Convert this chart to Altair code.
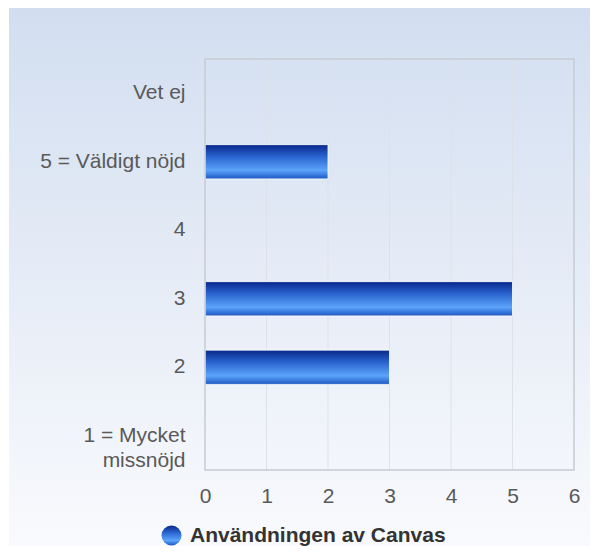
import altair as alt
import pandas as pd

# ---- data ----
categories = ["Vet ej", "5 = Väldigt nöjd", "4", "3", "2", "1 = Mycket missnöjd"]
counts = [0, 2, 0, 5, 3, 0]
series_name = "Användningen av Canvas"
x_ticks = [0, 1, 2, 3, 4, 5, 6]
grid_ticks = [1, 2, 3, 4, 5]
wrapped = {"1 = Mycket missnöjd": ["1 = Mycket", "missnöjd"]}

# ---- layout ----
W, H = 369, 411
PAD = {"left": 197, "top": 51, "right": 16, "bottom": 76}
FONT = "Liberation Sans"

df = pd.DataFrame({"cat": categories, "n": counts, "series": series_name})
grid_df = pd.DataFrame({"t": grid_ticks})

bar_grad = {
    "gradient": "linear", "x1": 0, "y1": 0, "x2": 0, "y2": 1,
    "stops": [
        {"offset": 0.0, "color": "#08278a"},
        {"offset": 0.35, "color": "#2a63cf"},
        {"offset": 0.75, "color": "#5ba4fb"},
        {"offset": 1.0, "color": "#1c56c2"},
    ],
}
bg_grad = {
    "gradient": "linear", "x1": 0, "y1": 0, "x2": 0, "y2": 1,
    "stops": [
        {"offset": 0.0, "color": "#d2def0"},
        {"offset": 1.0, "color": "#f9fafd"},
    ],
}
legend_grad_expr = (
    "{gradient: 'linear', x1: 0, y1: 0, x2: 1, y2: 0, stops: ["
    "{offset: 0, color: '#5ea2f5'}, {offset: 0.5, color: '#2a62d2'}, "
    "{offset: 1, color: '#0b2885'}]}"
)

label_expr = " : ".join(
    [f"datum.label == '{k}' ? {v!r}" for k, v in wrapped.items()] + ["datum.label"]
)

bg = alt.Chart(alt.Data(values=[{}])).mark_rect(fill=bg_grad).encode(
    x=alt.value(-PAD["left"] + 1),
    x2=alt.value(W + PAD["right"]),
    y=alt.value(-PAD["top"]),
    y2=alt.value(H + PAD["bottom"]),
)

grid = alt.Chart(grid_df).mark_rule(color="#dde2e9", strokeWidth=1).encode(
    x=alt.X("t:Q"),
    y=alt.value(0),
    y2=alt.value(H),
)

bars = alt.Chart(df).transform_filter("datum.n > 0").mark_bar(
    fill=bar_grad, stroke="#ffffff", strokeWidth=1, strokeOpacity=0.8
).encode(
    y=alt.Y(
        "cat:N",
        sort=categories,
        scale=alt.Scale(domain=categories, paddingInner=0.5, paddingOuter=0.25),
        axis=alt.Axis(
            title=None, domain=False, ticks=False, grid=False,
            labelFont=FONT, labelFontSize=21, labelColor="#595959",
            labelPadding=20, labelLineHeight=25, labelLimit=300,
            labelExpr=label_expr, zindex=1,
        ),
    ),
    x=alt.X(
        "n:Q",
        scale=alt.Scale(domain=[0, 6], nice=False),
        axis=alt.Axis(
            title=None, values=x_ticks, format="d", domain=False, ticks=False,
            grid=False, labelFont=FONT, labelFontSize=21, labelColor="#595959",
            labelPadding=15, labelFlush=False, zindex=1,
        ),
    ),
    opacity=alt.Opacity(
        "series:N",
        scale=alt.Scale(range=[1]),
        legend=alt.Legend(
            title=None, orient="none", legendX=-44, legendY=466,
            symbolType="circle", symbolSize=400,
            symbolFillColor=alt.ExprRef(legend_grad_expr),
            symbolStrokeWidth=0,
            labelFont=FONT, labelFontSize=21, labelFontWeight="bold",
            labelColor="#333333", labelOffset=8, labelLimit=500,
        ),
    ),
)

border = alt.Chart(alt.Data(values=[{}])).mark_rect(
    filled=False, stroke="#c6cbd2", strokeWidth=1.5
).encode(
    x=alt.value(0), x2=alt.value(W), y=alt.value(0), y2=alt.value(H)
)

chart = alt.layer(bg, grid, bars, border).properties(
    width=W, height=H, padding=PAD,
    autosize=alt.AutoSizeParams(type="none"),
    background="white",
).configure_view(stroke=None)

chart.save("out.html", embed_options={"renderer": "svg", "actions": False})
